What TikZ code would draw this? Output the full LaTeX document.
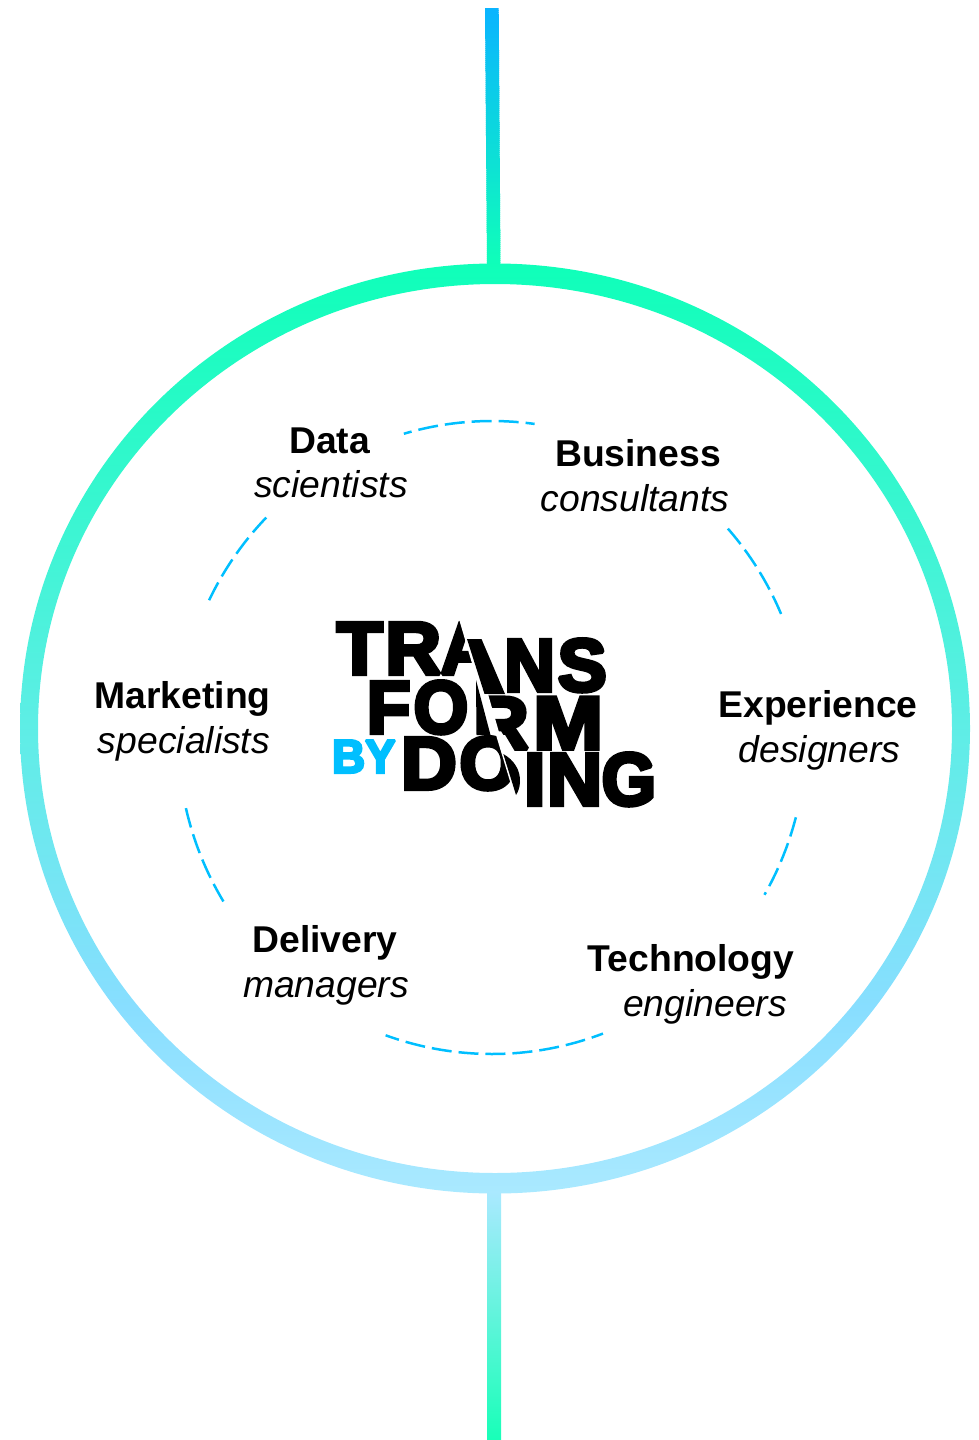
\documentclass[tikz,border=0pt]{standalone}
\usepackage{graphicx}
\usepackage{fontspec}
\setmainfont{Liberation Sans}
\newfontfamily\logofont[FakeBold=5.5]{Liberation Sans Bold}
\definecolor{dashblue}{HTML}{00BFFF}
\definecolor{ringtop}{HTML}{0FFFB9}
\definecolor{ringmid}{RGB}{93,238,229}
\definecolor{ringlow}{RGB}{136,222,255}
\definecolor{ringbot}{HTML}{AAE9FF}
\definecolor{bartop}{HTML}{0AB4FF}
\definecolor{barbot}{HTML}{18FFB8}
\pgfdeclareverticalshading{barlower}{100bp}{color(0bp)=(barbot); color(25bp)=(barbot); color(75bp)=(ringbot); color(100bp)=(ringbot)}
\pgfdeclareverticalshading{ringshade}{100bp}{color(0bp)=(ringbot); color(25bp)=(ringbot); color(35bp)=(ringlow); color(50.5bp)=(ringmid); color(75bp)=(ringtop); color(100bp)=(ringtop)}
% letter: x of box, raise, horizontal scale, glyph
\newcommand{\lgl}[4]{\rlap{\kern#1pt\raise#2pt\hbox{\scalebox{#3}[1.063]{#4}}}}
\tikzset{
  x=1pt,y=-1pt,
  dasharc/.style={draw=dashblue,line width=2.5pt,dash pattern=on 20pt off 7pt},
  titletext/.style={anchor=base,inner sep=0,font=\fontsize{37.3}{44}\selectfont\bfseries},
  subtext/.style={anchor=base,inner sep=0,font=\fontsize{37.3}{44}\selectfont\itshape},
  logorow/.style={anchor=base west,inner sep=0,font=\logofont\fontsize{70}{80}\selectfont},
  mask/.style={fill=white,draw=none},
  ink/.style={fill=black,draw=none}
}
\begin{document}
\begin{tikzpicture}
\useasboundingbox (0,0) rectangle (979,1440);
% upper bar: thin slices from blue to green, clipped to the slanted outline
\begin{scope}
\clip (485,8) -- (498.7,8) -- (500.5,266) -- (487,266) -- cycle;
\foreach \i in {0,...,128}{
  \pgfmathsetmacro{\p}{\i/128*100}
  \pgfmathsetmacro{\ya}{8+2*\i}
  \pgfmathsetmacro{\yb}{\ya+2.6}
  \fill[ringtop!\p!bartop] (480,\ya) rectangle (505,\yb);
}
\end{scope}
\shade[shading=barlower] (487,1192) -- (501,1192) -- (501,1440) -- (487,1440) -- cycle;
\shade[even odd rule,shading=ringshade]
  (495,728.5) ellipse [x radius=475,y radius=465]
  (495,728.5) ellipse [x radius=457,y radius=444.5];
% dashed arcs
\draw[dasharc,dash phase=12pt] plot[domain=253.7:277.8,samples=40] ({492+314*cos(\x)},{737.5+316.5*sin(\x)});
\draw[dasharc] plot[domain=-41.3:-22.4,samples=40] ({492+314*cos(\x)},{737.5+316.5*sin(\x)});
\draw[dasharc] plot[domain=14.6:29.8,samples=40] ({492+314*cos(\x)},{737.5+316.5*sin(\x)});
\draw[dasharc,dash phase=6pt] plot[domain=109.8:69.3,samples=40] ({492+314*cos(\x)},{737.5+316.5*sin(\x)});
\draw[dasharc] plot[domain=148.8:167.5,samples=40] ({492+314*cos(\x)},{737.5+316.5*sin(\x)});
\draw[dasharc] plot[domain=205.7:224.9,samples=40] ({492+314*cos(\x)},{737.5+316.5*sin(\x)});
% labels
\node[titletext] (data) at (329.5,453) {Data};
\node[subtext] (datas) at (331,497) {scientists};
\node[titletext] (bus) at (638,466) {Business};
\node[subtext] (buss) at (635,511) {consultants};
\node[titletext] (exp) at (818,717) {Experience};
\node[subtext] (exps) at (819.5,762) {designers};
\node[titletext] (tech) at (691,971) {Technology};
\node[subtext] (techs) at (705,1016) {engineers};
\node[titletext] (del) at (325,952) {Delivery};
\node[subtext] (dels) at (326,997) {managers};
\node[titletext] (mkt) at (182.5,708) {Marketing};
\node[subtext] (mkts) at (184,753) {specialists};
% logo
\begin{scope}[miter limit=1.5]
\node[logorow] (row1) at (0,674) {\lgl{336.1}{0}{1.07}{T}\lgl{384.7}{0}{1.1}{R}\lgl{440}{0}{1.01}{A}\lgl{503.6}{-17}{1}{N}\lgl{557}{-17}{1.05}{S}};
\fill[mask] (459,619) -- (476,677) -- (503,677) -- (503,615) -- (459,615) -- cycle;
\fill[ink] (467,639) -- (481.5,639) -- (505,694) -- (484.5,694) -- cycle;
\node[logorow] (row2) at (0,733) {\lgl{366.1}{0}{1.02}{F}\lgl{413}{0}{1}{O}\lgl{472.4}{-15.7}{1.1}{R}\lgl{532.7}{-15.7}{1.19}{M}};
\fill[mask] (470,694) -- (488,694) -- (505,753) -- (470,753) -- cycle;
\fill[ink] (476,680) -- (476.5,735) -- (490.5,735) -- cycle;
\node[logorow] (row3) at (0,789) {\lgl{400.4}{0}{1.1}{D}\lgl{458.8}{0}{1.05}{O}\lgl{523.4}{-16}{1.1}{I}\lgl{546.4}{-16}{1.09}{N}\lgl{601}{-16}{1}{G}};
\fill[mask] (496,735) -- (514.5,796) -- (525,796) -- (525,753.5) -- (516,753.5) -- (505,735) -- cycle;
\fill[ink] (503.3,754) .. controls (514,760) and (520.5,770) .. (520,782) .. controls (519.7,788) and (518,792) .. (516,795) -- cycle;
\node[anchor=base west,inner sep=0,font=\logofont\fontsize{47}{50}\selectfont,text=dashblue] (by) at (332,772.7) {\scalebox{0.97}[1]{BY}};
\end{scope}
\end{tikzpicture}
\end{document}
